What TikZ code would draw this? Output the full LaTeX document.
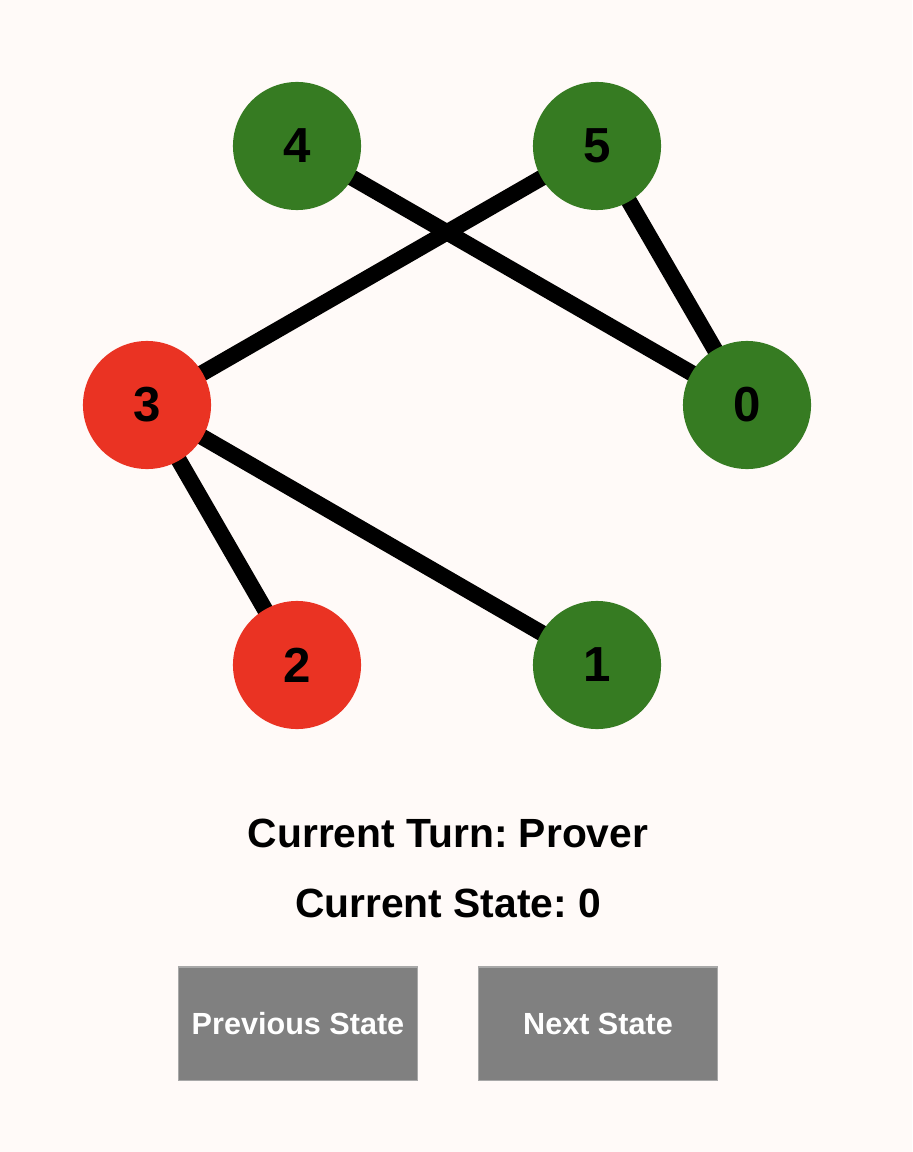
\documentclass[tikz,border=0pt]{standalone}
\usepackage{fontspec}
\setmainfont{Liberation Sans}
\frenchspacing
\definecolor{bgc}{HTML}{FFFAF8}
\definecolor{gn}{HTML}{367B22}
\definecolor{rd}{HTML}{EA3323}
\definecolor{btn}{HTML}{808080}
\definecolor{btnb}{HTML}{A8A8A8}
\pgfdeclarelayer{bglayer}
\pgfdeclarelayer{edgelayer}
\pgfsetlayers{bglayer,edgelayer,main}
\tikzset{
  vert/.style={circle, minimum size=1.28cm, inner sep=0pt, font=\fontsize{14}{16}\selectfont\bfseries},
  gv/.style={vert, fill=gn},
  rv/.style={vert, fill=rd},
  edge/.style={line width=4.6pt, black},
  label/.style={font=\fontsize{11.6}{14}\selectfont\bfseries, text=black},
  button/.style={fill=btn, draw=btnb, line width=0.3pt, minimum width=2.38cm, minimum height=1.13cm, inner sep=0pt, text=white, font=\fontsize{8.7}{10}\selectfont\bfseries}
}
\begin{document}
\begin{tikzpicture}[x=0.01cm, y=-0.01cm]
\begin{pgfonlayer}{bglayer}
\fill[bgc] (0,0) rectangle (912,1152);
\end{pgfonlayer}
\useasboundingbox (0,0) rectangle (912,1152);
\node[gv] (n4) at (297,146) {4};
\node[gv] (n5) at (597,146) {5};
\node[rv] (n3) at (147,405) {3};
\node[gv] (n0) at (747,405) {0};
\node[rv] (n2) at (297,665) {2};
\node[gv] (n1) at (597,665) {1};
\begin{pgfonlayer}{edgelayer}
\draw[edge] (n4.center) -- (n0.center);
\draw[edge] (n5.center) -- (n3.center);
\draw[edge] (n5.center) -- (n0.center);
\draw[edge] (n3.center) -- (n2.center);
\draw[edge] (n3.center) -- (n1.center);
\end{pgfonlayer}
\node[label] (turn) at (448,833) {Current Turn: Prover};
\node[label] (state) at (448,903) {Current State: 0};
\node[button] (prev) at (298,1023.5) {Previous State};
\node[button] (next) at (598,1023.5) {Next State};
\end{tikzpicture}
\end{document}
